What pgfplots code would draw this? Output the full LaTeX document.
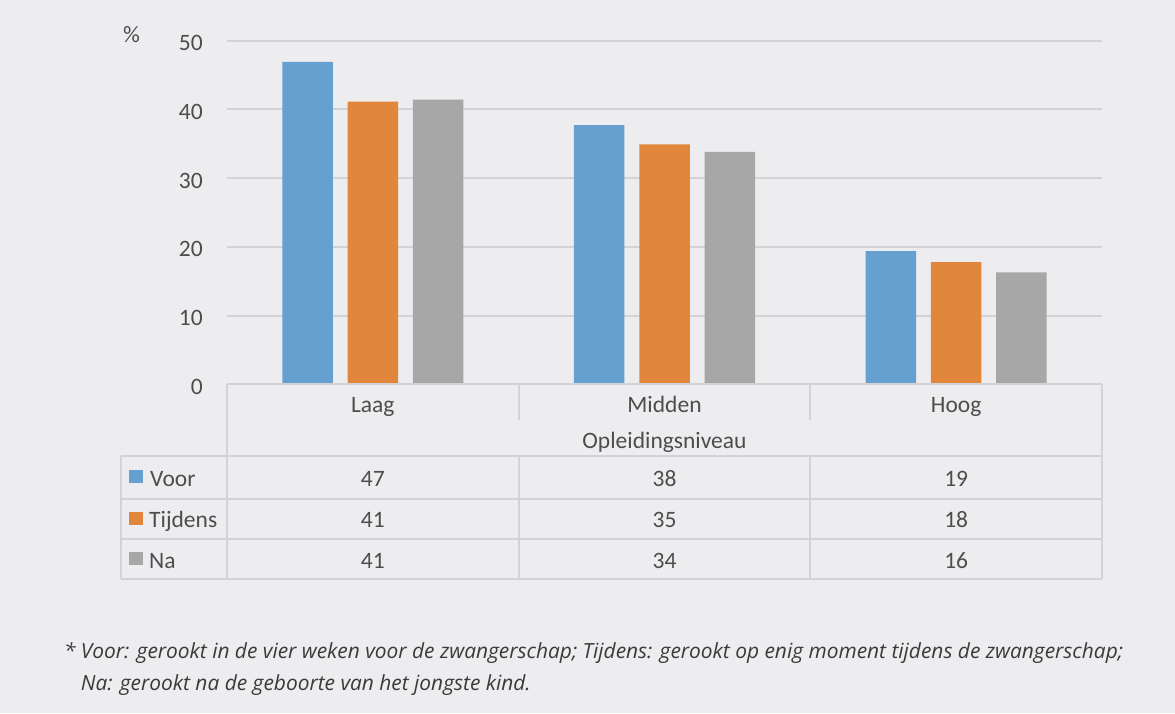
\documentclass[border=0pt]{standalone}
\usepackage{pgfplots}
\pgfplotsset{compat=1.18}
\usepackage{pgfplotstable}
\usepackage{fontspec}
\setmainfont{Carlito}
\newfontfamily\notefont{Open Sans}
\definecolor{bgc}{HTML}{EDEDF0}
\definecolor{gridc}{HTML}{D3D3D6}
\definecolor{cblue}{HTML}{66A0D1}
\definecolor{corange}{HTML}{E0873B}
\definecolor{cgray}{HTML}{A7A7A8}
\definecolor{txt}{HTML}{4D4D4D}
\definecolor{notec}{HTML}{3A3A3A}

\pgfplotstableread{
x voor tijdens na
0 46.9 41.1 41.4
1 37.7 34.9 33.8
2 19.4 17.8 16.3
}\datatab

\newcommand{\cf}{\fontsize{23.5}{28}\selectfont}

\begin{document}
\begin{tikzpicture}
\useasboundingbox (0pt,0pt) rectangle (1175pt,713pt);
\fill[bgc] (0pt,0pt) rectangle (1175pt,713pt);
\begin{axis}[
  at={(227pt,328.5pt)}, anchor=south west,
  scale only axis, width=875pt, height=344pt,
  xmin=-0.5, xmax=2.5, ymin=0, ymax=50,
  ytick={0,10,...,50}, xtick=\empty,
  axis line style={draw=none},
  ymajorgrids, grid style={gridc, line width=2pt},
  major tick length=0pt,
  /pgf/number format/assume math mode=true,
  yticklabel style={font=\cf, text=txt, anchor=east, inner sep=0pt, xshift=-24pt, yshift=-2.5pt},
  ybar, bar width=50.5pt,
  clip=false,
]
\addplot[fill=cblue, draw=none, bar shift=-65.3pt] table[x=x,y=voor]{\datatab};
\addplot[fill=corange, draw=none, bar shift=0pt] table[x=x,y=tijdens]{\datatab};
\addplot[fill=cgray, draw=none, bar shift=65.3pt] table[x=x,y=na]{\datatab};
\end{axis}
\begin{scope}[x=1pt,y=1pt]
% table lines
\begin{scope}[draw=gridc, line width=2pt]
\draw (227,328.5) -- (1102,328.5);
\draw (120.7,257) -- (1102,257);
\draw (120.7,213.7) -- (1102,213.7);
\draw (120.7,173.7) -- (1102,173.7);
\draw (120.7,133.7) -- (1102,133.7);
\draw (120.7,257) -- (120.7,133.7);
\draw (227,328.5) -- (227,133.7);
\draw (1102,328.5) -- (1102,133.7);
\draw (518.7,328.5) -- (518.7,293);
\draw (810.3,328.5) -- (810.3,293);
\draw (518.7,257) -- (518.7,133.7);
\draw (810.3,257) -- (810.3,133.7);
\end{scope}
\begin{scope}[every node/.style={font=\cf, text=txt, inner sep=0pt}]
\node[anchor=base west] at (123,670) {\%};
\node[anchor=base] at (372.8,300.3) {Laag};
\node[anchor=base] at (664.5,300.3) {Midden};
\node[anchor=base] at (956.2,300.3) {Hoog};
\node[anchor=base] at (664.5,265) {Opleidingsniveau};
% legend column
\fill[cblue] (129.3,229.7) rectangle (142.7,243);
\fill[corange] (129.3,188) rectangle (142.7,201.3);
\fill[cgray] (129.3,148) rectangle (142.7,161.3);
\node[anchor=base west] at (150,226.3) {Voor};
\node[anchor=base west] at (149,185.7) {Tijdens};
\node[anchor=base west] at (149,144.7) {Na};
% values
\node[anchor=base] at (372.8,226.3) {47};
\node[anchor=base] at (664.5,226.3) {38};
\node[anchor=base] at (956.2,226.3) {19};
\node[anchor=base] at (372.8,185.7) {41};
\node[anchor=base] at (664.5,185.7) {35};
\node[anchor=base] at (956.2,185.7) {18};
\node[anchor=base] at (372.8,144.7) {41};
\node[anchor=base] at (664.5,144.7) {34};
\node[anchor=base] at (956.2,144.7) {16};
\end{scope}
\begin{scope}[every node/.style={font=\notefont\itshape\fontsize{20.9}{25}\selectfont, text=notec, inner sep=0pt, anchor=base west}]
\node at (64,54.7) {*};
\node at (80.7,54.7) {Voor: gerookt in de vier weken voor de zwangerschap; Tijdens: gerookt op enig moment tijdens de zwangerschap;};
\node at (80.7,23) {Na: gerookt na de geboorte van het jongste kind.};
\end{scope}
\end{scope}
\end{tikzpicture}
\end{document}
